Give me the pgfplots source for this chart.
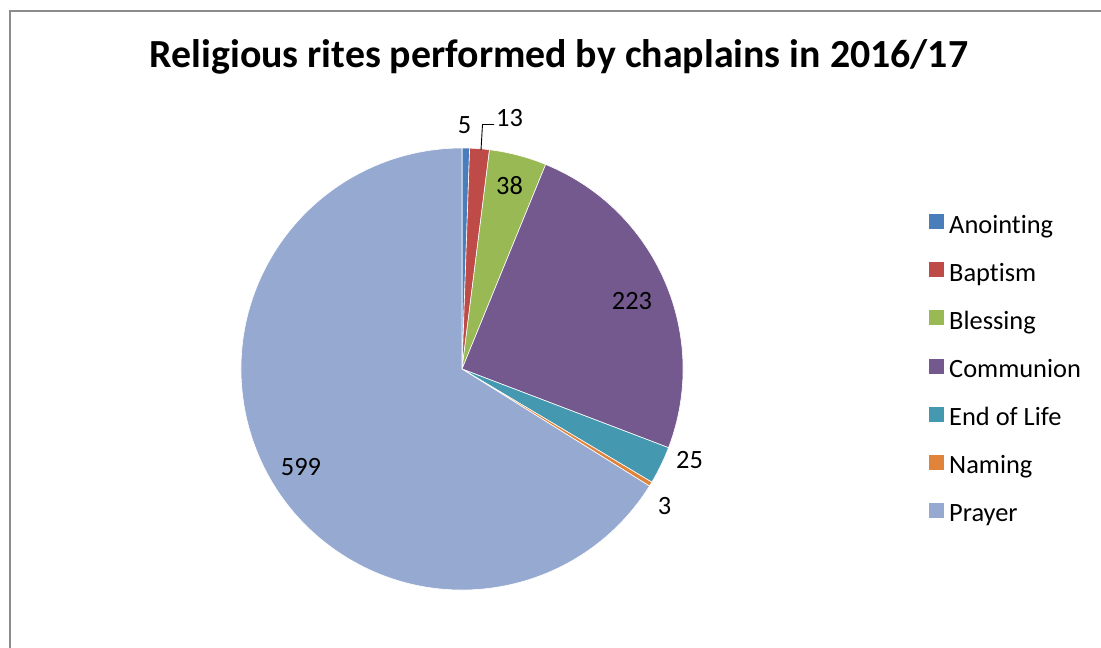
\documentclass[border=0pt]{standalone}
\usepackage{pgfplots}
\usepackage{pgfplotstable}
\pgfplotsset{compat=1.18}
\usepackage{fontspec}
\setmainfont{Carlito}[Ligatures={NoCommon}]

\definecolor{slice0}{HTML}{4A7EBB}
\definecolor{slice1}{HTML}{BE4B48}
\definecolor{slice2}{HTML}{98B954}
\definecolor{slice3}{HTML}{73598E}
\definecolor{slice4}{HTML}{4499B0}
\definecolor{slice5}{HTML}{E0843B}
\definecolor{slice6}{HTML}{95A9D1}
\definecolor{framegray}{HTML}{8C8C8C}

\pgfplotstableread{
name value
Anointing 5
Baptism 13
Blessing 38
Communion 223
EndofLife 25
Naming 3
Prayer 599
}\ritesdata

\begin{document}
\begin{tikzpicture}
% cumulative angles (clockwise from 12 o'clock)
\def\total{0}
\pgfplotstableforeachcolumnelement{value}\of\ritesdata\as\v{%
  \pgfmathparse{\total+\v}\xdef\total{\pgfmathresult}}
\def\cum{0}
\pgfplotstableforeachcolumnelement{value}\of\ritesdata\as\v{%
  \pgfmathparse{90-360*(\cum/\total)}%
  \expandafter\xdef\csname sa\pgfplotstablerow\endcsname{\pgfmathresult}%
  \pgfmathparse{\cum+\v}\xdef\cum{\pgfmathresult}%
  \pgfmathparse{90-360*(\cum/\total)}%
  \expandafter\xdef\csname ea\pgfplotstablerow\endcsname{\pgfmathresult}}
\useasboundingbox (0,0) rectangle (1101bp,648bp);
\begin{axis}[
  at={(0,0)}, anchor=south west,
  scale only axis, width=1101bp, height=648bp,
  xmin=0, xmax=1101, ymin=0, ymax=648, y dir=reverse,
  hide axis, clip=false,
  legend cell align=left,
  legend image code/.code={\fill[#1, draw=none] (0bp,-2bp) rectangle (15bp,13bp);},
  legend style={at={(axis cs:929,214)}, anchor=north west, draw=none, fill=none,
    inner sep=0pt, row sep=23.1bp, column sep=5bp,
    font=\fontsize{26.5}{30}\selectfont,
    nodes={inner sep=0pt, text height=18bp, text depth=6bp}},
]
\pgfplotsinvokeforeach{0,...,6}{
  \fill[slice#1, draw=white, line width=0.6bp] (axis cs:462,369) -- ++(\csname sa#1\endcsname:221bp)
    arc[start angle=\csname sa#1\endcsname, end angle=\csname ea#1\endcsname, radius=221bp] -- cycle;
}
\addlegendimage{fill=slice0, draw=none}\addlegendentry{Anointing}
\addlegendimage{fill=slice1, draw=none}\addlegendentry{Baptism}
\addlegendimage{fill=slice2, draw=none}\addlegendentry{Blessing}
\addlegendimage{fill=slice3, draw=none}\addlegendentry{Communion}
\addlegendimage{fill=slice4, draw=none}\addlegendentry{End of Life}
\addlegendimage{fill=slice5, draw=none}\addlegendentry{Naming}
\addlegendimage{fill=slice6, draw=none}\addlegendentry{Prayer}
% frame
\fill[framegray] (axis cs:9,648) rectangle (axis cs:11,10);
\fill[framegray] (axis cs:9,10) rectangle (axis cs:1101,12);
% title
\node[anchor=base, font=\fontsize{40}{44}\bfseries] at (axis cs:559,68) {Religious rites performed by chaplains in 2016/17};
% data labels
\begin{scope}[every node/.style={anchor=base, inner sep=0pt, font=\fontsize{26.5}{30}\selectfont}]
\node at (axis cs:464.5,133) {5};
\node at (axis cs:509.5,126) {13};
\node at (axis cs:509.5,194) {38};
\node at (axis cs:632,309) {223};
\node at (axis cs:689.5,468) {25};
\node at (axis cs:664.5,514) {3};
\node at (axis cs:301,475) {599};
\end{scope}
\draw[black, line width=0.9bp] (axis cs:481,150) -- (axis cs:482.5,124.5) -- (axis cs:494,124.5);
\end{axis}
\end{tikzpicture}
\end{document}
